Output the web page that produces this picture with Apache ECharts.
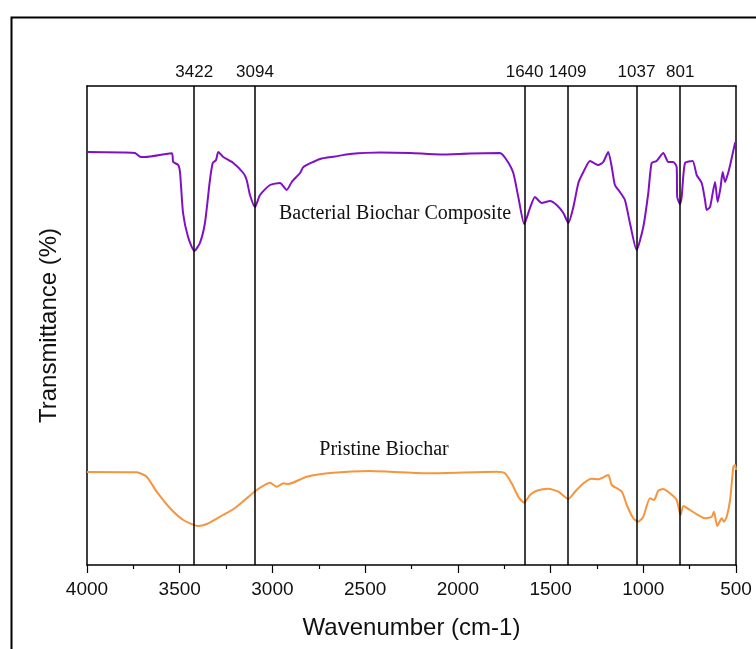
<!DOCTYPE html>
<html>
<head>
<meta charset="utf-8">
<script src="https://cdn.jsdelivr.net/npm/echarts@6/dist/echarts.min.js"></script>
<style>html,body{margin:0;padding:0;background:#fff;}#c{width:756px;height:649px;}</style>
</head>
<body>
<div id="c"></div>
<script>
// Wavenumber (cm-1) and relative transmittance (arbitrary units)
const compositeWavenumber = [4000,3806,3741,3714,3687,3543,3535,3508,3498,3482,3455,3421,3391,3364,3337,3322,3304,3292,3265,3211,3157,3139,3121,3094,3067,3013,2959,2923,2896,2851,2833,2743,2663,2582,2420,2258,2096,1934,1773,1737,1701,1674,1642,1611,1584,1548,1503,1467,1431,1404,1377,1350,1323,1287,1243,1216,1189,1170,1153,1126,1099,1072,1036,1000,973,955,928,892,865,838,820,817,802,793,775,734,712,685,667,658,640,613,599,583,572,559,541,529,505,500];
const compositeValue = [413,412.5,412,408.3,408,411.7,403,400,392,352,328,314,322,342,385,402,405,413,408,402,392,385,370,358,370,380,382,375,383,392,398,406,408.5,411,412.5,412,410.5,411.5,412,405,392,368,341,357,368,362,364,360,352,342,358,382,393,404,400,403,413,398,380,373,365,342,315,338,372,402,404,412,403,403,398,368,361,368,402,404,390,382,365,355,358,383,363,378,393,383,393,402,422,423];
const pristineWavenumber = [4000,3732,3678,3624,3552,3481,3400,3354,3283,3211,3139,3085,3013,2977,2941,2914,2815,2672,2474,2366,2150,1790,1746,1710,1674,1643,1611,1575,1512,1458,1404,1368,1323,1278,1243,1189,1170,1116,1089,1054,1027,1000,964,942,919,892,856,820,799,784,748,712,667,631,619,601,577,565,550,532,514,505,500];
const pristineValue = [93,92.7,88.3,73.3,56.7,45,39,41,48.3,55.7,66.7,75,82.3,78.3,81.7,81,88.3,92.3,94,93.3,91.7,93.3,91.7,81.7,68.3,62.3,70,74.3,76.3,73.3,66,73.3,81.7,86.3,85.7,90,80,73.3,60,46.7,43.3,48.3,66.7,65,74.3,76,71.7,65,50,59,55,50.7,46.7,48.3,53.3,39,46.7,43.3,48.3,65,98.3,100,95];
const peakWavenumbers = [3422,3094,1640,1409,1037,801];
const xTicks = [4000,3500,3000,2500,2000,1500,1000,500];
const seriesNames = ['Bacterial Biochar Composite','Pristine Biochar'];

const toPairs = (xs, ys) => xs.map((x, i) => [x, ys[i]]);

const chart = echarts.init(document.getElementById('c'), null, {renderer: 'canvas'});
chart.setOption({
  animation: false,
  backgroundColor: '#fff',
  grid: {left: 87, right: 20, top: 86, bottom: 84},
  xAxis: [{
    type: 'value', min: 500, max: 4000, interval: 500, inverse: true,
    name: 'Wavenumber (cm-1)', nameLocation: 'middle', nameGap: 51,
    nameTextStyle: {fontFamily: 'Liberation Sans', fontSize: 24, color: '#111'},
    axisLine: {show: true, onZero: false, lineStyle: {color: '#000', width: 1.5}},
    axisTick: {show: true, inside: false, length: 8, lineStyle: {color: '#000', width: 1.2}},
    minorTick: {show: true, splitNumber: 2, length: 4, lineStyle: {color: '#000', width: 1.2}},
    axisLabel: {fontFamily: 'Liberation Sans', fontSize: 19, color: '#111', margin: 15,
      formatter: v => xTicks.includes(v) ? String(v) : ''},
    splitLine: {show: false}
  }, {
    type: 'value', min: 500, max: 4000, inverse: true, position: 'top',
    axisLine: {show: true, onZero: false, lineStyle: {color: '#000', width: 1.5}},
    axisTick: {show: false}, axisLabel: {show: false}, splitLine: {show: false}
  }],
  yAxis: [{
    type: 'value', min: 0, max: 479,
    name: 'Transmittance (%)', nameLocation: 'middle', nameGap: 26,
    nameTextStyle: {fontFamily: 'Liberation Sans', fontSize: 24, color: '#111'},
    axisLine: {show: true, onZero: false, lineStyle: {color: '#000', width: 1.5}},
    axisTick: {show: false}, axisLabel: {show: false}, splitLine: {show: false}
  }, {
    type: 'value', min: 0, max: 479, position: 'right',
    axisLine: {show: true, onZero: false, lineStyle: {color: '#000', width: 1.5}},
    axisTick: {show: false}, axisLabel: {show: false}, splitLine: {show: false}
  }],
  series: [{
    name: seriesNames[0], type: 'line', showSymbol: false, smooth: 0.2,
    data: toPairs(compositeWavenumber, compositeValue),
    lineStyle: {color: '#8010C4', width: 2}, z: 3,
    markLine: {
      silent: true, symbol: 'none', animation: false,
      lineStyle: {color: '#000', width: 1.5, type: 'solid'},
      label: {show: true, position: 'end', formatter: p => String(p.value), distance: 5,
        fontFamily: 'Liberation Sans', fontSize: 17, color: '#111'},
      data: peakWavenumbers.map(w => ({xAxis: w}))
    }
  }, {
    name: seriesNames[1], type: 'line', showSymbol: false, smooth: 0.2,
    data: toPairs(pristineWavenumber, pristineValue),
    lineStyle: {color: '#F7943E', width: 2}, z: 3
  }],
  graphic: [
    {type: 'rect', left: 9, top: 15, shape: {width: 800, height: 700}, style: {fill: 'none', stroke: '#000', lineWidth: 2}, z: -1},
    {type: 'text', x: 395, y: 214, style: {text: seriesNames[0], font: '20px "Liberation Serif"', fill: '#111', textAlign: 'center', textVerticalAlign: 'middle'}},
    {type: 'text', x: 384, y: 450, style: {text: seriesNames[1], font: '20px "Liberation Serif"', fill: '#111', textAlign: 'center', textVerticalAlign: 'middle'}}
  ]
});
</script>
</body>
</html>
